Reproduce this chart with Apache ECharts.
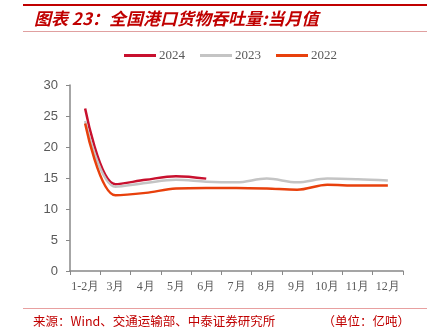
<!DOCTYPE html>
<html>
<head>
<meta charset="utf-8">
<script src="https://cdn.jsdelivr.net/npm/echarts@6/dist/echarts.min.js"></script>
<style>
  html, body { margin: 0; padding: 0; background: #fff; }
  #chart { width: 436px; height: 329px; }
</style>
</head>
<body>
<div id="chart"></div>
<script>
// Monthly port cargo throughput (亿吨)
const months = ['1-2月', '3月', '4月', '5月', '6月', '7月', '8月', '9月', '10月', '11月', '12月'];
const y2024 = [26.2, 14.0, 14.7, 15.3, 14.9];
const y2023 = [24.2, 13.6, 14.2, 14.7, 14.4, 14.3, 14.9, 14.3, 14.9, 14.8, 14.6];
const y2022 = [23.8, 12.2, 12.6, 13.3, 13.4, 13.4, 13.3, 13.1, 13.9, 13.8, 13.8];
const yTicks = [0, 5, 10, 15, 20, 25, 30];

const chart = echarts.init(document.getElementById('chart'));

function lineSeries(name, data, color) {
  return {
    name: name,
    type: 'line',
    data: data,
    smooth: 0.35,
    symbol: 'none',
    lineStyle: { color: color, width: 2.5 },
    itemStyle: { color: color }
  };
}

chart.setOption({
  animation: false,
  backgroundColor: '#fff',
  title: {
    text: '图表 23：全国港口货物吞吐量:当月值',
    left: 34,
    top: 10,
    padding: 0,
    textStyle: {
      color: '#c00000',
      fontSize: 17,
      fontWeight: 'bold',
      fontStyle: 'italic',
      fontFamily: 'Noto Sans CJK SC'
    }
  },
  graphic: [
    { type: 'rect', shape: { x: 23, y: 4, width: 404, height: 2 }, style: { fill: '#c00000' } },
    { type: 'rect', shape: { x: 23, y: 31, width: 404, height: 1 }, style: { fill: '#e0a0a0' } },
    { type: 'rect', shape: { x: 23, y: 308, width: 404, height: 1 }, style: { fill: '#e8a0a0' } },
    {
      type: 'text', left: 33, top: 315,
      style: { text: '来源：Wind、交通运输部、中泰证券研究所', fill: '#c00000', font: '12.5px "Noto Sans CJK SC"' }
    },
    {
      type: 'text', right: 26, top: 315,
      style: { text: '（单位：亿吨）', fill: '#c00000', font: '12.5px "Noto Sans CJK SC"' }
    }
  ],
  legend: {
    top: 49,
    left: 124,
    padding: 0,
    itemWidth: 32,
    itemHeight: 3,
    itemGap: 15,
    icon: 'rect',
    textStyle: { color: '#595959', fontSize: 13, fontFamily: 'Liberation Serif', padding: [0, 0, 0, -2] },
    data: ['2024', '2023', '2022']
  },
  grid: { left: 70, right: 33, top: 85, bottom: 58, containLabel: false },
  xAxis: {
    type: 'category',
    data: months,
    boundaryGap: true,
    axisLine: { lineStyle: { color: '#888', width: 1.5 } },
    axisTick: { show: true, lineStyle: { color: '#888' }, length: 4 },
    axisLabel: { color: '#595959', fontSize: 12, fontFamily: 'Liberation Serif', margin: 10, interval: 0 }
  },
  yAxis: {
    type: 'value',
    min: yTicks[0],
    max: yTicks[yTicks.length - 1],
    interval: 5,
    axisLine: { show: true, lineStyle: { color: '#888', width: 1.5 } },
    axisTick: { show: true, lineStyle: { color: '#888' }, length: 4 },
    splitLine: { show: false },
    axisLabel: { color: '#595959', fontSize: 13, fontFamily: 'Liberation Sans', margin: 12 }
  },
  series: [
    lineSeries('2024', y2024, '#c8102e'),
    lineSeries('2023', y2023, '#c4c4c4'),
    lineSeries('2022', y2022, '#e8400c')
  ]
});
</script>
</body>
</html>
